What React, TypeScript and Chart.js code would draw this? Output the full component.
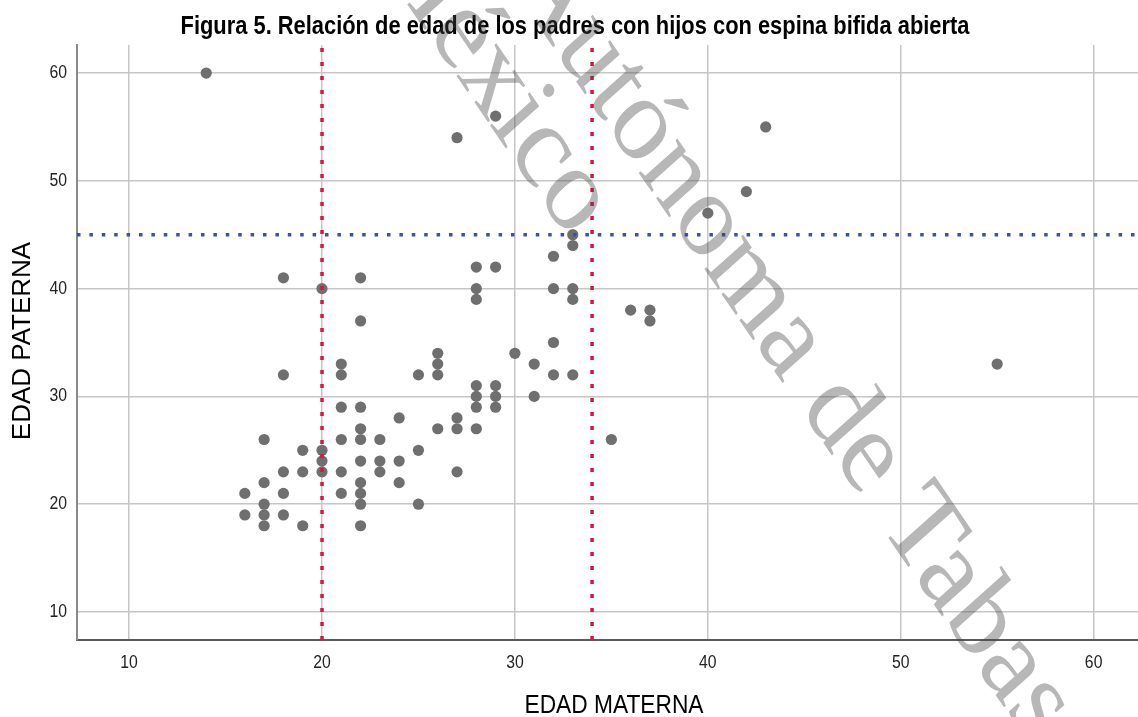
import React, { useEffect, useRef } from "react";
import { Chart, registerables } from "chart.js";

Chart.register(...registerables);

// ---- Text ----
const TITLE = "Figura 5. Relación de edad de los padres con hijos con espina bifida abierta";
const X_TITLE = "EDAD MATERNA";
const Y_TITLE = "EDAD PATERNA";
const WATERMARK_LINE_1 = "Autónoma de Tabasco";
const WATERMARK_LINE_2 = "México";

// ---- Data (edad materna, edad paterna) ----
const edadMaterna = [
  14, 29, 27, 43, 42, 40, 33, 33, 32, 28, 29, 18, 22, 20, 28, 32, 33, 28, 33, 36,
  37, 37, 22, 32, 26, 30, 21, 26, 31, 55, 18, 21, 25, 26, 32, 33, 28, 29, 28, 29,
  31, 21, 22, 28, 29, 24, 27, 22, 26, 27, 28, 17, 21, 22, 23, 35, 19, 20, 25, 20,
  22, 23, 24, 18, 19, 20, 21, 23, 27, 17, 22, 24, 16, 18, 21, 22, 17, 22, 25, 16,
  17, 18, 17, 19, 22,
];
const edadPaterna = [
  60, 56, 54, 55, 49, 47, 45, 44, 43, 42, 42, 41, 41, 40, 40, 40, 40, 39, 39, 38,
  38, 37, 37, 35, 34, 34, 33, 33, 33, 33, 32, 32, 32, 32, 32, 32, 31, 31, 30, 30,
  30, 29, 29, 29, 29, 28, 28, 27, 27, 27, 27, 26, 26, 26, 26, 26, 25, 25, 25, 24,
  24, 24, 24, 23, 23, 23, 23, 23, 23, 22, 22, 22, 21, 21, 21, 21, 20, 20, 20, 19,
  19, 19, 18, 18, 18,
];

// ---- Reference lines ----
const refMaterna = [20, 34];
const refPaterna = [45];

// ---- Axes ----
const xTicks = [10, 20, 30, 40, 50, 60];
const yTicks = [10, 20, 30, 40, 50, 60];
const X_MIN = 7.3;
const X_MAX = 62.3;
const Y_MIN = 7.4;
const Y_MAX = 62.6;

const SX = 0.875; // horizontal squeeze of the source image

const textPlugin = {
  id: "customTexts",
  afterDraw(chart: any) {
    const ctx: CanvasRenderingContext2D = chart.ctx;
    const xs = chart.scales.x;
    const ys = chart.scales.y;
    const draw = (
      txt: string,
      cx: number,
      cy: number,
      font: string,
      color: string,
      align: CanvasTextAlign,
      rot = 0,
      sx = SX
    ) => {
      ctx.save();
      ctx.translate(cx, cy);
      ctx.rotate(rot);
      ctx.scale(sx, 1);
      ctx.font = font;
      ctx.fillStyle = color;
      ctx.textAlign = align;
      ctx.textBaseline = "middle";
      ctx.fillText(txt, 0, 0);
      ctx.restore();
    };
    const tickFont = '18px "Liberation Sans", Arial, sans-serif';
    xs.ticks.forEach((t: any) =>
      draw(String(t.value), xs.getPixelForValue(t.value), 663, tickFont, "#222", "center")
    );
    ys.ticks.forEach((t: any) =>
      draw(String(t.value), 67, ys.getPixelForValue(t.value), tickFont, "#222", "right")
    );
    draw(TITLE, 575, 27, 'bold 25px "Liberation Sans", Arial, sans-serif', "#000", "center");
    draw(X_TITLE, 614, 706, '26px "Liberation Sans", Arial, sans-serif', "#000", "center");
    draw(Y_TITLE, 23, 341, '26px "Liberation Sans", Arial, sans-serif', "#000", "center", -Math.PI / 2, 1);

    // watermark
    const wm = (txt: string, anchorPrefix: string, anchorChar: string, ax: number, ay: number) => {
      ctx.save();
      ctx.font = '122px "Liberation Serif", "Times New Roman", serif';
      ctx.fillStyle = "rgba(70,70,70,0.39)";
      ctx.translate(ax, ay);
      ctx.scale(SX, 1);
      ctx.rotate((52 * Math.PI) / 180);
      const pre = ctx.measureText(anchorPrefix).width + ctx.measureText(anchorChar).width / 2;
      ctx.textBaseline = "middle";
      ctx.textAlign = "left";
      ctx.fillText(txt, -pre, 0);
      ctx.restore();
    };
    wm(WATERMARK_LINE_1, "Aut", "ó", 643, 127);
    wm(WATERMARK_LINE_2, "Méx", "i", 520, 117);
  },
};

export default function App() {
  const canvasRef = useRef<HTMLCanvasElement | null>(null);

  useEffect(() => {
    if (!canvasRef.current) return;
    const points = edadMaterna.map((m, i) => ({ x: m, y: edadPaterna[i] }));
    const refDatasets: any[] = [
      ...refMaterna.map((v) => ({
        type: "line",
        data: [
          { x: v, y: Y_MIN },
          { x: v, y: Y_MAX },
        ],
        borderColor: "#e2103f",
        borderWidth: 3.5,
        borderDash: [4, 10],
        borderCapStyle: "butt",
        pointRadius: 0,
        fill: false,
        order: 1,
      })),
      ...refPaterna.map((v) => ({
        type: "line",
        data: [
          { x: X_MIN, y: v },
          { x: X_MAX, y: v },
        ],
        borderColor: "#3a52a6",
        borderWidth: 3.5,
        borderDash: [3.5, 8.9],
        borderCapStyle: "butt",
        pointRadius: 0,
        fill: false,
        order: 1,
      })),
    ];
    const chart = new Chart(canvasRef.current, {
      type: "scatter",
      data: {
        datasets: [
          {
            type: "scatter",
            data: points,
            backgroundColor: "#6f6f6f",
            borderWidth: 0,
            pointRadius: 5.6,
            pointHoverRadius: 5.6,
            order: 2,
          } as any,
          ...refDatasets,
        ],
      },
      options: {
        animation: false,
        responsive: false,
        events: [],
        layout: { autoPadding: false, padding: { top: 45, left: 0, right: 0, bottom: 0 } },
        plugins: {
          legend: { display: false },
          title: { display: false },
          tooltip: { enabled: false },
        },
        scales: {
          x: {
            type: "linear",
            min: X_MIN,
            max: X_MAX,
            afterBuildTicks: (s: any) => {
              s.ticks = xTicks.map((v) => ({ value: v }));
            },
            afterFit: (s: any) => {
              s.height = 77;
            },
            ticks: { display: false, includeBounds: false },
            grid: { color: "#c6c6c6", lineWidth: 1.5, drawTicks: false },
            border: { display: true, color: "#5a5a5a", width: 2 },
            title: { display: false },
          },
          y: {
            type: "linear",
            min: Y_MIN,
            max: Y_MAX,
            afterBuildTicks: (s: any) => {
              s.ticks = yTicks.map((v) => ({ value: v }));
            },
            afterFit: (s: any) => {
              s.width = 77;
            },
            ticks: { display: false, includeBounds: false },
            grid: { color: "#c6c6c6", lineWidth: 1.5, drawTicks: false },
            border: { display: true, color: "#8a8a8a", width: 2 },
            title: { display: false },
          },
        },
      } as any,
      plugins: [textPlugin],
    });
    return () => chart.destroy();
  }, []);

  return (
    <div style={{ position: "fixed", left: 0, top: 0, width: 1138, height: 717, background: "#fff" }}>
      <canvas ref={canvasRef} width={1138} height={717} style={{ display: "block" }} />
    </div>
  );
}
